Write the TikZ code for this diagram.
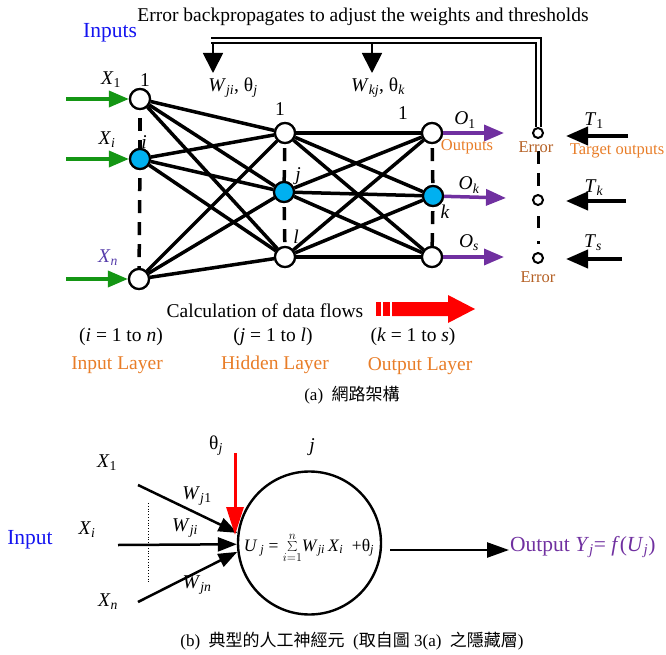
\documentclass[tikz,border=0pt]{standalone}
\usepackage{fontspec}
\setmainfont{Liberation Serif}
\newfontfamily\cjk{Noto Sans CJK TC}
\usetikzlibrary{arrows.meta}
\definecolor{nblue}{RGB}{0,176,240}
\definecolor{ggreen}{RGB}{20,150,20}
\definecolor{ppurple}{RGB}{112,48,160}
\definecolor{xnpurple}{RGB}{85,60,170}
\definecolor{lorange}{RGB}{232,125,40}
\definecolor{ebrown}{RGB}{180,95,35}
\definecolor{iblue}{RGB}{20,20,240}
\newcommand\sbi[1]{\textsubscript{\itshape #1}}
\newcommand\sbr[1]{\textsubscript{#1}}
\begin{document}
\begin{tikzpicture}[x=1pt,y=-1pt,
  every node/.style={inner sep=0pt, font=\fontsize{19.5}{22}\selectfont},
  small/.style={font=\fontsize{16.5}{18}\selectfont},
  big/.style={font=\fontsize{21.5}{24}\selectfont},
  neuron/.style={circle, draw, line width=2.2pt, minimum size=20pt, fill=white},
  errc/.style={circle, draw, line width=2pt, minimum size=10pt, fill=white},
  edge/.style={line width=3.5pt},
  colline/.style={line width=3.5pt, dash pattern=on 13pt off 9pt},
  garrow/.style={ggreen, line width=3.5pt, -{Triangle[length=20pt,width=16pt]}},
  parrow/.style={ppurple, line width=3.5pt, -{Triangle[length=20pt,width=16pt]}},
  barrow/.style={black, line width=4pt, -{Triangle[length=22pt,width=18pt]}},
  darrow/.style={line width=1.8pt, -{Triangle[length=20pt,width=20pt]}},
  barrowb/.style={line width=2.5pt, -{Triangle[length=19pt,width=14pt]}},
]
\useasboundingbox (0,0) rectangle (666,655);

% ---------- part (a) ----------
\node[neuron] (i1) at (140,99) {};
\node[neuron, fill=nblue] (ii) at (140,159) {};
\node[neuron] (in) at (139,279) {};
\node[neuron] (h1) at (285,133) {};
\node[neuron, fill=nblue] (hj) at (284,192) {};
\node[neuron] (hl) at (285,257) {};
\node[neuron] (o1) at (432,133) {};
\node[neuron, fill=nblue] (ok) at (433,196) {};
\node[neuron] (os) at (432,257) {};
\node[errc] (e1) at (538,133) {};
\node[errc] (e2) at (538,200) {};
\node[errc] (e3) at (538,258) {};

\foreach \a in {i1,ii,in} \foreach \b in {h1,hj,hl} \draw[edge] (\a) -- (\b);
\foreach \a in {h1,hj,hl} \foreach \b in {o1,ok,os} \draw[edge] (\a) -- (\b);

% column dashes
\draw[colline, shorten <=8pt] (i1) -- (ii);
\draw[colline, shorten <=8pt] (ii) -- (in);
\draw[colline, shorten <=4pt] (h1) -- (hj);
\draw[colline, shorten <=4pt] (hj) -- (hl);
\draw[colline, shorten <=4pt] (o1) -- (ok);
\draw[colline, shorten <=4pt] (ok) -- (os);
\draw[colline, shorten <=12pt, line width=3pt] (e1) -- (e2);
\draw[colline, shorten <=10pt, line width=3pt, dash pattern=on 12pt off 13pt on 3pt off 20pt] (e2) -- (e3);

% redraw nodes on top
\foreach \n/\c in {i1/white,ii/nblue,in/white,h1/white,hj/nblue,hl/white,o1/white,ok/nblue,os/white}
  \node[neuron, fill=\c] at (\n) {};

% green input arrows
\coordinate (g1) at (66,99);
\coordinate (gi) at (66,159);
\coordinate (gn) at (66,279);
\draw[garrow] (g1) -- (i1);
\draw[garrow] (gi) -- (ii);
\draw[garrow] (gn) -- (in);

% purple output arrows
\coordinate (p1) at (504,133);
\coordinate (pk) at (506,198);
\coordinate (ps) at (504,257);
\draw[parrow] (o1) -- (p1);
\draw[parrow] (ok) -- (pk);
\draw[parrow] (os) -- (ps);

% target arrows
\coordinate (t1a) at (628,136); \coordinate (t1b) at (566,136);
\coordinate (tka) at (626,201); \coordinate (tkb) at (566,201);
\coordinate (tsa) at (622,259); \coordinate (tsb) at (566,259);
\draw[barrow] (t1a) -- (t1b);
\draw[barrow] (tka) -- (tkb);
\draw[barrow] (tsa) -- (tsb);

% feedback double line
\coordinate (fbl) at (211,40.5);
\draw[line width=2pt, double distance=3pt] (fbl) -- (fbl -| e1) -- (e1.north);
\coordinate (fa1) at (213,43); \coordinate (fa1t) at (213,73);
\coordinate (fa2) at (372,43); \coordinate (fa2t) at (372,73);
\draw[darrow] (fa1) -- (fa1t);
\draw[darrow] (fa2) -- (fa2t);

% texts
\node (ebt) at (363,17) {Error backpropagates to adjust the weights and thresholds};
\node[big, text=iblue] (inps) at (110,33) {Inputs};
\node (lx1) at (111,80) {\textit{X}\sbr{1}};
\node (lxi) at (107,140) {\textit{X}\sbi{i}};
\node[text=xnpurple] (lxn) at (108,258) {\textit{X}\sbi{n}};
\node (l1i) at (145,80) {1};
\node (lii) at (144,142) {\textit{i}};
\node (lw1) at (233,88) {\textit{W}\sbi{ji}, θ\sbi{j}};
\node (lw2) at (378,88) {\textit{W}\sbi{kj}, θ\sbi{k}};
\node (l1h) at (280,109) {1};
\node (ljh) at (298,176) {\textit{j}};
\node (llh) at (296,237) {\textit{l}};
\node (l1o) at (403,113) {1};
\node (lko) at (445,212) {\textit{k}};
\node (lo1) at (465,120) {\textit{O}\sbr{1}};
\node (lok) at (469,185) {\textit{O}\sbi{k}};
\node (los) at (469,243) {\textit{O}\sbi{s}};
\node[small, text=lorange] (louts) at (467,147) {Outputs};
\node[small, text=ebrown] (ler1) at (536,147) {Error};
\node[small, text=ebrown] (ler3) at (538,277) {Error};
\node[small, text=lorange] (ltgt) at (617,151) {Target outputs};
\node (lt1) at (594,121) {\textit{T}\sbr{1}};
\node (ltk) at (594,188) {\textit{T}\sbi{k}};
\node (lts) at (593,243) {\textit{T}\sbi{s}};

\node (calc) at (265,311) {Calculation of data flows};
\fill[red] (376,302) rectangle (381,316);
\fill[red] (383,302) rectangle (390,316);
\fill[red] (392,302) -- (448,302) -- (448,295) -- (475,309) -- (448,323) -- (448,316) -- (392,316) -- cycle;

\node (ri) at (121,337) {(\textit{i} = 1 to \textit{n})};
\node (rj) at (273,337) {(\textit{j} = 1 to \textit{l})};
\node (rk) at (413,337) {(\textit{k} = 1 to \textit{s})};
\node[text=lorange] (lin) at (117,365) {Input Layer};
\node[text=lorange] (lhid) at (275,365) {Hidden Layer};
\node[text=lorange] (lout) at (420,366) {Output Layer};
\node[font=\fontsize{17}{20}\selectfont] (capa) at (352,395) {(a)\ \ {\cjk 網路架構}};

% ---------- part (b) ----------
\node[circle, draw, line width=2.4pt, minimum size=143pt] (neu) at (309.5,543) {};
\node[font=\fontsize{17.5}{19}\selectfont] (fml) at (309,548)
  {\textit{U}\,\sbi{j} = \(\sum\limits_{i=1}^{n}\)\textit{W}\sbi{ji}\,\textit{X}\sbi{i} \ +θ\sbi{j}};

\coordinate (bx1) at (138,485);
\coordinate (bxi) at (118,545);
\coordinate (bxn) at (138,602);
\draw[barrowb] (bx1) -- (neu.172);
\draw[barrowb] (bxi) -- (neu.181);
\draw[barrowb] (bxn) -- (neu.187);
\coordinate (dt) at (148,503); \coordinate (db) at (148,583);
\draw[line width=0.8pt, dotted] (dt) -- (db);

\coordinate (rth) at (235,453); \coordinate (rtt) at (235,535);
\draw[red, line width=3pt, -{Triangle[length=28pt,width=17pt]}] (rth) -- (rtt);

\coordinate (oa) at (390,550); \coordinate (ob) at (509,550);
\draw[line width=2.5pt, -{Triangle[length=22pt,width=15pt]}] (oa) -- (ob);

\node[big, text=iblue] (binp) at (30,540) {Input};
\node (bl1) at (107,463) {\textit{X}\sbr{1}};
\node (bli) at (87,530) {\textit{X}\sbi{i}};
\node (bln) at (108,602) {\textit{X}\sbi{n}};
\node (bw1) at (197,496) {\textit{W}\sbi{j}\sbr{1}};
\node (bwi) at (185,528) {\textit{W}\sbi{ji}};
\node (bwn) at (197,585) {\textit{W}\sbi{jn}};
\node (bth) at (216,446) {θ\sbi{j}};
\node (bj) at (312,447) {\textit{j}};
\node[big, text=ppurple, anchor=west] (bout) at (510,547) {Output \textit{Y}\sbi{j}= \textit{f}(\textit{U}\sbi{j})};
\node[font=\fontsize{17}{20}\selectfont] (capb) at (352,641) {(b)\ \ {\cjk 典型的人工神經元}\ \ ({\cjk 取自圖} 3(a)\ \ {\cjk 之隱藏層})};
\end{tikzpicture}
\end{document}
